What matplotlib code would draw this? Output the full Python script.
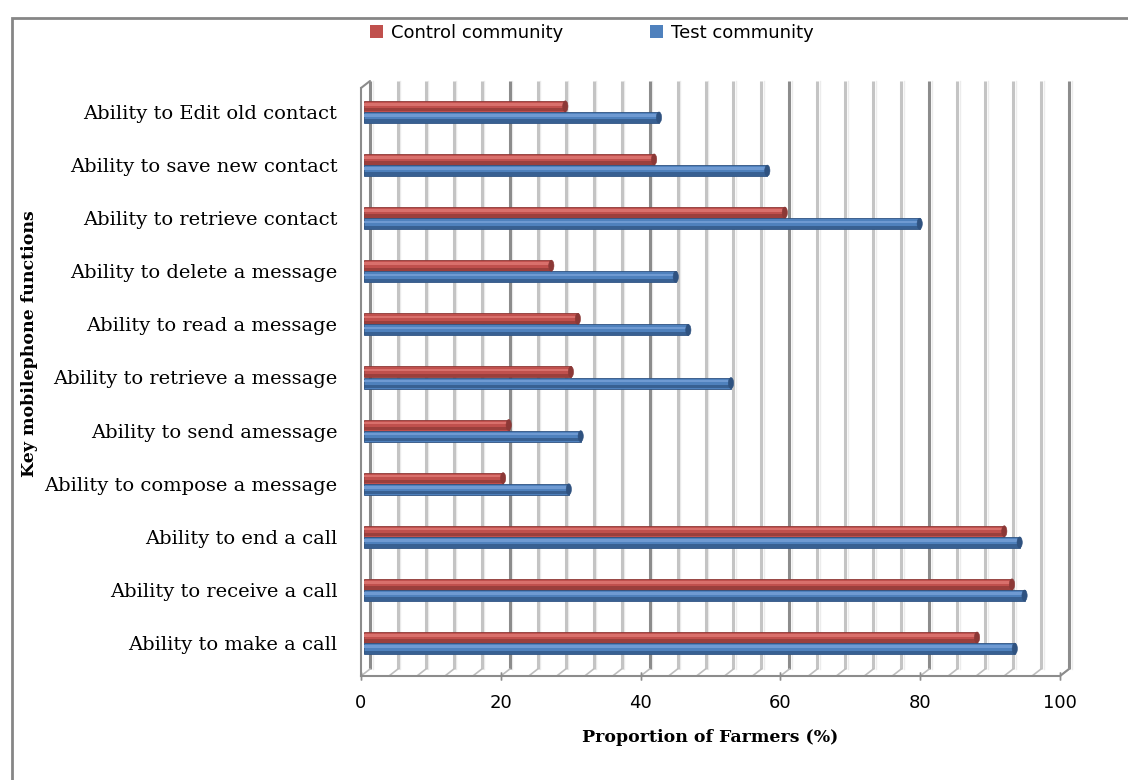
import matplotlib
matplotlib.use("Agg")
import matplotlib.pyplot as plt
import matplotlib.transforms as mtransforms
from matplotlib.patches import Patch, Ellipse, Rectangle

functions = [
    "Ability to make a call",
    "Ability to receive a call",
    "Ability to end a call",
    "Ability to compose a message",
    "Ability to send amessage",
    "Ability to retrieve a message",
    "Ability to read a message",
    "Ability to delete a message",
    "Ability to retrieve contact",
    "Ability to save new contact",
    "Ability to Edit old contact",
]
control = [87.7, 92.7, 91.6, 19.9, 20.7, 29.6, 30.6, 26.8, 60.2, 41.5, 28.8]
test = [93.1, 94.5, 93.8, 29.3, 31.0, 52.5, 46.4, 44.6, 79.5, 57.7, 42.2]
xticks = [0, 20, 40, 60, 80, 100]

W, H = 1128, 780
fig = plt.figure(figsize=(W / 100, H / 100), dpi=100)
fig.patch.set_facecolor("white")

# outer chart frame (runs off the right and bottom edges)
fig.patches.append(Rectangle((12 / W, -0.05), 1.2, 1 - 18 / H + 0.05,
                             transform=fig.transFigure, fill=False,
                             edgecolor="#868686", lw=2))

left, right, bottom, top = 361, 1060, 676, 88
ax = fig.add_axes([left / W, 1 - bottom / H, (right - left) / W, (bottom - top) / H])
ax.set_xlim(0, 100)
ax.set_ylim(-0.62, 10.45)
for s in ax.spines.values():
    s.set_visible(False)

# offset used for the 3D back wall
def shift(dx, dy):
    return mtransforms.ScaledTranslation(dx / 100, dy / 100, fig.dpi_scale_trans)

xa = mtransforms.blended_transform_factory(ax.transData, ax.transAxes)
back = xa + shift(9, 7)

def edge(x0, y0, tr0, x1, y1, tr1, col, lw):
    ax.annotate("", xy=(x1, y1), xycoords=tr1, xytext=(x0, y0), textcoords=tr0,
                arrowprops=dict(arrowstyle="-", color=col, lw=lw,
                                shrinkA=0, shrinkB=0), zorder=1)

for v in range(0, 101, 4):
    major = v % 20 == 0
    col = "#8c8c8c" if major else "#c4c4c4"
    ax.plot([v, v], [0, 1], transform=xa + shift(11.5, 7), color="#ececec",
            lw=1.0, zorder=1, clip_on=False)
    ax.plot([v, v], [0, 1], transform=back, color=col, lw=2.2, zorder=1,
            solid_capstyle="butt", clip_on=False)
    # floor diagonals
    edge(v, 0, xa, v, 0, back, "#bdbdbd", 1.2)

# front axis lines and ticks
ax.plot([0, 100], [0, 0], transform=xa, color="#8c8c8c", lw=1.5, zorder=2, clip_on=False)
ax.plot([0, 0], [0, 1], transform=xa, color="#8c8c8c", lw=1.5, zorder=2, clip_on=False)
edge(0, 1, xa, 0, 1, back, "#8c8c8c", 1.5)
edge(100, 0, xa, 100, 0, back, "#8c8c8c", 1.5)
for v in xticks:
    ax.plot([v, v], [0, 0], transform=xa, marker="|", markersize=6,
            color="#8c8c8c", zorder=2, clip_on=False)

# cylinder-style bars
bh = 0.207
bar_tr = ax.transData + shift(3, 0)
styles = [
    (control, 0.105, "#c0504d", "#d9706c", "#8c3836"),
    (test, -0.105, "#4f81bd", "#6f9ad2", "#2f5280"),
]
for vals, off, base, light, dark in styles:
    ys = [i + off for i in range(len(vals))]
    ax.barh(ys, vals, height=bh, color=base, edgecolor=dark, lw=0.6,
            transform=bar_tr, zorder=3)
    ax.barh([y + bh * 0.18 for y in ys], vals, height=bh * 0.22, color=light,
            lw=0, transform=bar_tr, zorder=3)
    ax.barh([y - bh * 0.32 for y in ys], vals, height=bh * 0.3, color=dark,
            lw=0, alpha=0.7, transform=bar_tr, zorder=3)
    for v, y in zip(vals, ys):
        ax.add_patch(Ellipse((v, y), 0.75, bh, facecolor=dark, edgecolor=dark,
                             lw=0.4, transform=bar_tr, zorder=4))

ax.set_yticks(range(len(functions)))
ax.set_yticklabels(functions, family="DejaVu Serif", fontsize=14)
ax.tick_params(axis="y", length=0, pad=17)
ax.set_xticks(xticks)
ax.set_xticklabels([str(t) for t in xticks], family="DejaVu Sans", fontsize=13)
ax.tick_params(axis="x", length=0, pad=13)

fig.text(710 / W, 1 - 738 / H, "Proportion of Farmers (%)", ha="center", va="center",
         family="DejaVu Serif", weight="bold", fontsize=12.5)
fig.text(30 / W, 1 - 344 / H, "Key mobilephone functions", ha="center", va="center",
         rotation=90, family="DejaVu Serif", weight="bold", fontsize=12.5)

handles = [Patch(facecolor="#c0504d", label="Control community"),
           Patch(facecolor="#4f81bd", label="Test community")]
fig.legend(handles=handles, loc="center", bbox_to_anchor=(592 / W, 1 - 33 / H),
           ncol=2, frameon=False, prop={"family": "DejaVu Sans", "size": 13},
           handlelength=0.7, handleheight=0.7, handletextpad=0.45,
           columnspacing=4.8)

fig.savefig("out.png", dpi=100)
